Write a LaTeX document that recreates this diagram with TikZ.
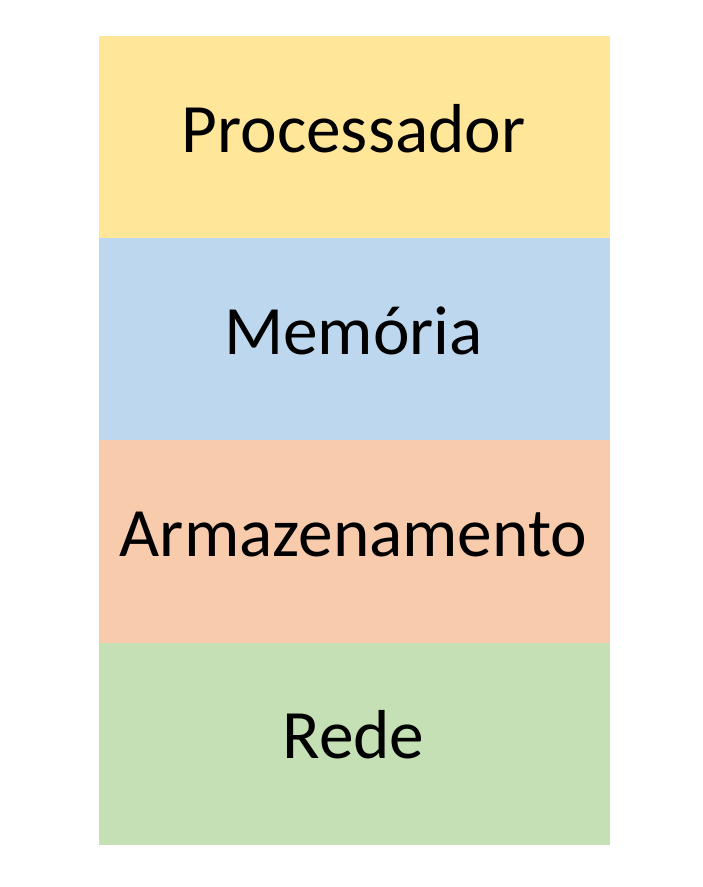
\documentclass[tikz,border=0pt]{standalone}
\usepackage{fontspec}
\setmainfont{Carlito}
\definecolor{cproc}{HTML}{FFE699}
\definecolor{cmem}{HTML}{BDD7EE}
\definecolor{carm}{HTML}{F8CBAD}
\definecolor{crede}{HTML}{C5E0B4}
\begin{document}
\begin{tikzpicture}[x=1pt,y=-1pt,
  layer/.style={fill=#1,draw=none},
  lbl/.style={anchor=base,font=\fontsize{69.3}{83}\selectfont,text=black,inner sep=0pt}]
\useasboundingbox (0,0) rectangle (703,887);
\fill[white] (0,0) rectangle (703,887);
\path[layer=cproc] (99,36) rectangle (610,238);
\path[layer=cmem] (99,238) rectangle (610,440);
\path[layer=carm] (99,440) rectangle (610,643);
\path[layer=crede] (99,643) rectangle (610,845);
\node[lbl] (proc) at (353.5,152) {Processador};
\node[lbl] (mem) at (353.5,354) {Memória};
\node[lbl] (arm) at (353.5,556) {Armazenamento};
\node[lbl] (rede) at (353.5,758) {Rede};
\end{tikzpicture}
\end{document}
